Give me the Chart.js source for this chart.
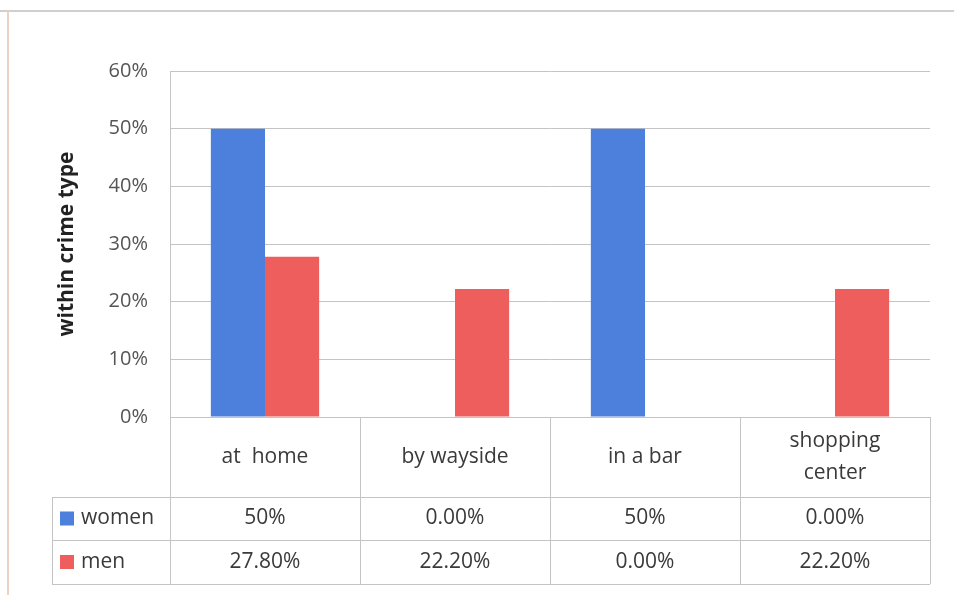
<!DOCTYPE html>
<html>
<head>
<meta charset="utf-8">
<script src="https://cdn.jsdelivr.net/npm/chart.js@4"></script>
<style>
  html, body { margin: 0; padding: 0; background: #fff; }
  #wrap { width: 954px; height: 595px; position: relative; }
</style>
</head>
<body>
<div id="wrap"><canvas id="chart" width="954" height="595"></canvas></div>
<script>
const categories = ['at  home', 'by wayside', 'in a bar', ['shopping', 'center']];
const seriesNames = ['women', 'men'];
const women = [50, 0, 50, 0];
const men = [27.8, 22.2, 0, 22.2];
const womenLabels = ['50%', '0.00%', '50%', '0.00%'];
const menLabels = ['27.80%', '22.20%', '0.00%', '22.20%'];
const yTicks = [0, 10, 20, 30, 40, 50, 60];

const BLUE = '#4d80dc';
const RED = '#ee5e5c';
const LINE = '#c4c4c4';
const TEXT = '#3a3a3a';
const FONT = "'Open Sans', sans-serif";

// frame lines around the whole chart object
const framePlugin = {
  id: 'frame',
  beforeDraw(chart) {
    const { ctx, width, height } = chart;
    ctx.save();
    ctx.fillStyle = '#fff';
    ctx.fillRect(0, 0, width, height);
    ctx.lineWidth = 2;
    ctx.strokeStyle = '#cfcfcf';
    ctx.beginPath();
    ctx.moveTo(0, 11); ctx.lineTo(width, 11);
    ctx.stroke();
    ctx.strokeStyle = '#ecd2c4';
    ctx.beginPath();
    ctx.moveTo(8, 11); ctx.lineTo(8, height);
    ctx.stroke();
    ctx.restore();
  }
};

// data table under the plot, columns follow the category scale
const tablePlugin = {
  id: 'dataTable',
  afterDraw(chart) {
    const { ctx, chartArea: a, scales: { x } } = chart;
    const n = categories.length;
    const w = (a.right - a.left) / n;
    const edges = categories.map((_, i) => a.left + i * w).concat(a.right);
    const left = 52;
    const top = a.bottom;
    const headBottom = top + 80;
    const r1 = headBottom + 43;
    const r2 = r1 + 44;

    ctx.save();
    ctx.strokeStyle = LINE;
    ctx.lineWidth = 1;
    ctx.beginPath();
    edges.forEach(e => { ctx.moveTo(Math.round(e) + 0.5, top); ctx.lineTo(Math.round(e) + 0.5, r2); });
    [headBottom, r1, r2].forEach(y => { ctx.moveTo(left, y + 0.5); ctx.lineTo(a.right, y + 0.5); });
    ctx.moveTo(left + 0.5, headBottom); ctx.lineTo(left + 0.5, r2);
    ctx.stroke();

    ctx.fillStyle = TEXT;
    ctx.font = `21px ${FONT}`;
    ctx.textAlign = 'center';
    ctx.textBaseline = 'middle';
    categories.forEach((c, i) => {
      const cx = x.getPixelForValue(i);
      const lines = Array.isArray(c) ? c : [c];
      const midY = (top + headBottom) / 2;
      lines.forEach((t, j) => ctx.fillText(t, cx, midY + (j - (lines.length - 1) / 2) * 32));
      ctx.fillText(womenLabels[i], cx, (headBottom + r1) / 2);
      ctx.fillText(menLabels[i], cx, (r1 + r2) / 2);
    });

    // legend keys
    [[BLUE, headBottom, r1], [RED, r1, r2]].forEach(([col, y0, y1], k) => {
      const my = (y0 + y1) / 2;
      ctx.fillStyle = col;
      ctx.fillRect(60, my - 7, 14, 14);
      ctx.fillStyle = TEXT;
      ctx.textAlign = 'left';
      ctx.fillText(seriesNames[k], 81, my);
    });
    ctx.restore();
  }
};

new Chart(document.getElementById('chart'), {
  type: 'bar',
  data: {
    labels: categories,
    datasets: [
      { label: seriesNames[0], data: women, backgroundColor: BLUE },
      { label: seriesNames[1], data: men, backgroundColor: RED }
    ]
  },
  options: {
    responsive: false,
    animation: false,
    layout: { padding: { top: 71, right: 24, bottom: 0, left: 0 } },
    datasets: { bar: { categoryPercentage: 0.57, barPercentage: 1 } },
    plugins: { legend: { display: false }, tooltip: { enabled: false } },
    scales: {
      x: {
        grid: { display: false, drawTicks: false },
        border: { display: false },
        ticks: { display: false },
        afterFit(s) { s.height = 178; }
      },
      y: {
        min: 0,
        max: 60,
        afterBuildTicks(s) { s.ticks = yTicks.map(v => ({ value: v })); },
        afterFit(s) { s.width = 170; },
        grid: { color: LINE, drawTicks: false },
        border: { display: true, color: LINE },
        ticks: {
          padding: 22,
          color: '#555',
          font: { family: FONT, size: 20 },
          callback: v => v + '%'
        },
        title: {
          display: true,
          text: 'within crime type',
          color: '#222',
          font: { family: FONT, size: 21, weight: 'bold' },
          padding: { top: 54, bottom: 0 }
        }
      }
    }
  },
  plugins: [framePlugin, tablePlugin]
});
</script>
</body>
</html>
